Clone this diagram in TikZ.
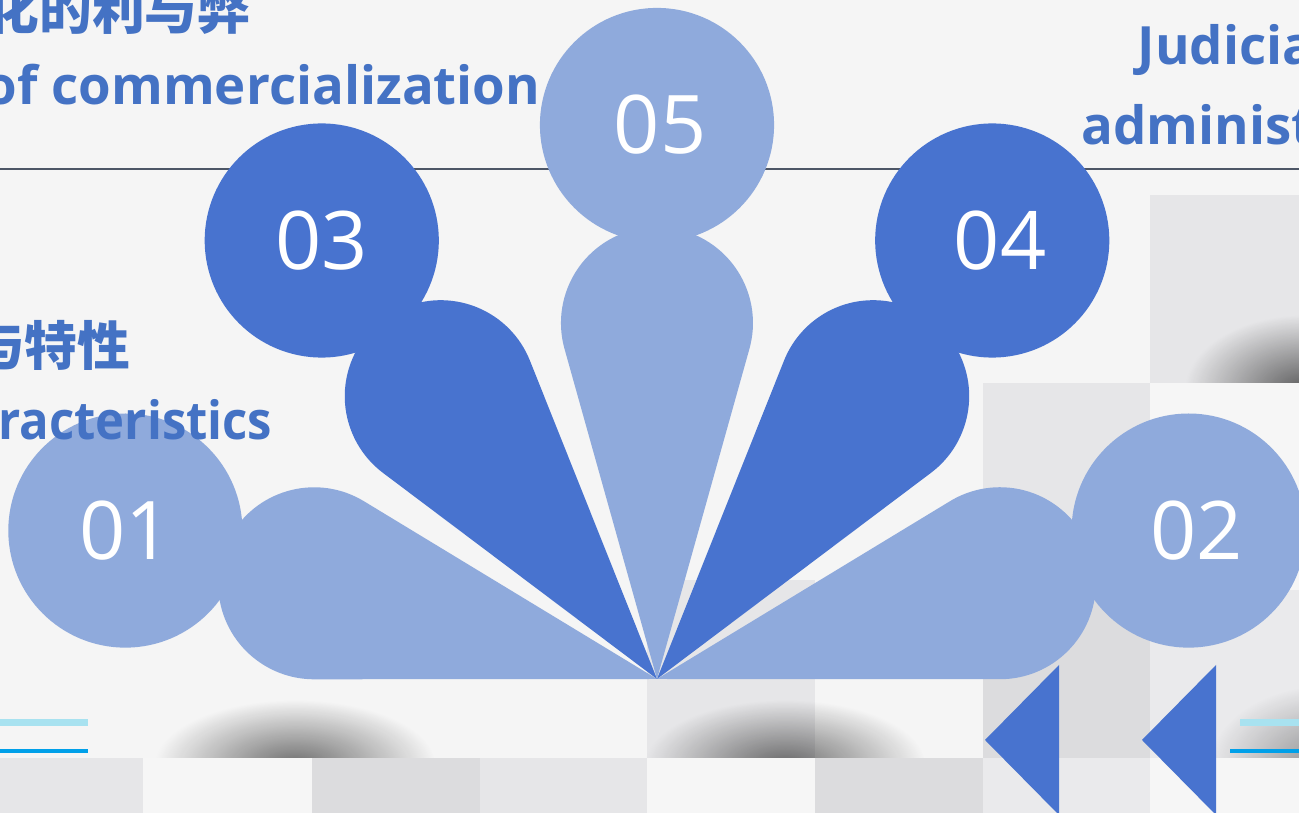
\documentclass[tikz,border=0pt]{standalone}
\usepackage{fontspec}
\setmainfont{Open Sans}
\newfontfamily\cjk{Noto Sans CJK SC}
\newfontfamily\numfont{Open Sans}
\usetikzlibrary{calc,fadings}
\tikzfading[name=softblob, inner color=transparent!0, outer color=transparent!100]
\definecolor{bg}{HTML}{F5F5F5}
\definecolor{light}{HTML}{8FAADC}
\definecolor{dark}{HTML}{4873CF}
\definecolor{tblue}{HTML}{4472C4}
\definecolor{rule}{HTML}{4D5666}
\definecolor{tileA}{HTML}{E6E6E8}
\definecolor{tileB}{HTML}{DCDCDE}
\definecolor{tileC}{HTML}{F6F6F6}
\definecolor{tileD}{HTML}{EAEAEC}
\definecolor{cyanl}{HTML}{A8E2F0}
\definecolor{bluel}{HTML}{00A0E9}
\begin{document}
\begin{tikzpicture}[x=0.01cm,y=0.01cm,
  numc/.style={circle, minimum size=2.34cm, inner sep=0pt, text=white,
    font={\numfont\fontsize{23pt}{23pt}\selectfont}},
  ttl/.style={text=tblue, inner sep=0pt, font={\bfseries\fontsize{15pt}{15pt}\selectfont}},
  shadowblob/.style={fill=black, opacity=0.55, path fading=softblob}
]
\useasboundingbox (0,0) rectangle (1299,-813);
\clip (0,0) rectangle (1299,-813);
% background
\fill[bg] (0,0) rectangle (1299,-813);
% upper tiles
\fill[tileA] (1150,-195) rectangle (1299,-383);
\fill[tileA] (983,-383) rectangle (1150,-590);
\fill[tileC] (1150,-383) rectangle (1299,-590);
\fill[tileB] (983,-590) rectangle (1150,-758);
\fill[tileD] (1150,-590) rectangle (1299,-758);
\fill[tileA] (647,-580) rectangle (815,-758);
% bottom row tiles
\fill[tileA] (0,-758) rectangle (143,-813);
\fill[tileC] (143,-758) rectangle (312,-813);
\fill[tileB] (312,-758) rectangle (480,-813);
\fill[tileA] (480,-758) rectangle (647,-813);
\fill[tileC] (647,-758) rectangle (815,-813);
\fill[tileB] (815,-758) rectangle (983,-813);
\fill[tileD] (983,-758) rectangle (1150,-813);
\fill[tileC] (1150,-758) rectangle (1299,-813);
% soft shadows
\begin{scope}
  \clip (0,-560) rectangle (1299,-758);
  \fill[shadowblob] (295,-765) ellipse [x radius=140, y radius=65];
  \fill[shadowblob] (785,-765) ellipse [x radius=140, y radius=65];
  \fill[shadowblob, opacity=0.4] (1330,-765) ellipse [x radius=120, y radius=80];
\end{scope}
\begin{scope}
  \clip (1150,-195) rectangle (1299,-383);
  \fill[shadowblob, opacity=0.6] (1305,-390) ellipse [x radius=120, y radius=75];
\end{scope}
% thin accent lines
\fill[cyanl] (0,-719) rectangle (88,-726);
\fill[bluel] (0,-749) rectangle (88,-753);
\fill[cyanl] (1240,-719) rectangle (1299,-726);
\fill[bluel] (1230,-749) rectangle (1299,-753);
% rule under titles
\coordinate (rl) at (0,-169);
\coordinate (rr) at (1299,-169);
\draw[rule, line width=0.6pt] (rl) -- (rr);
% fan
\coordinate (A) at (657,-679);
\foreach \ang/\col in {164.4/light, 15.6/light, 127.4/dark, 52.6/dark, 90/light} {
  \fill[\col] (A) -- ($(A)+({\ang-15.64}:342.8)$)
     arc[start angle={\ang-105.64}, end angle={\ang+105.64}, radius=96] -- cycle;
}
% numbered circles
\node[numc, fill=light] (n01) at ($(A)+(164.4:552)$) {01};
\node[numc, fill=light] (n02) at ($(A)+(15.6:552)$) {\hspace*{4.5pt}02};
\node[numc, fill=dark]  (n03) at ($(A)+(127.4:552)$) {03};
\node[numc, fill=dark]  (n04) at ($(A)+(52.6:552)$) {\hspace*{4.5pt}04};
\node[numc, fill=light] (n05) at ($(A)+(90:554)$) {\hspace*{1.7pt}05};
% triangles
\coordinate (t1a) at (985,-740);
\coordinate (t1b) at (1059,-665);
\coordinate (t1c) at (1059,-815);
\fill[dark] (t1a) -- (t1b) -- (t1c) -- cycle;
\coordinate (t2a) at (1142,-740);
\coordinate (t2b) at (1216,-665);
\coordinate (t2c) at (1216,-815);
\fill[dark] (t2a) -- (t2b) -- (t2c) -- cycle;
% title texts
\node[ttl, anchor=base east] (h1) at (251,-30) {\cjk 化的利与弊};
\node[ttl, anchor=base east] (h2) at (541,-105) {of commercialization};
\node[ttl, anchor=base east] (h3) at (131,-366) {\cjk 与特性};
\node[ttl, anchor=base east] (h4) at (273,-440) {\scalebox{0.93}[1]{racteristics}};
\node[ttl, anchor=base west] (h5) at (1137,-65) {Judicia};
\node[ttl, anchor=base west] (h6) at (1081,-145) {administ};
\end{tikzpicture}
\end{document}
